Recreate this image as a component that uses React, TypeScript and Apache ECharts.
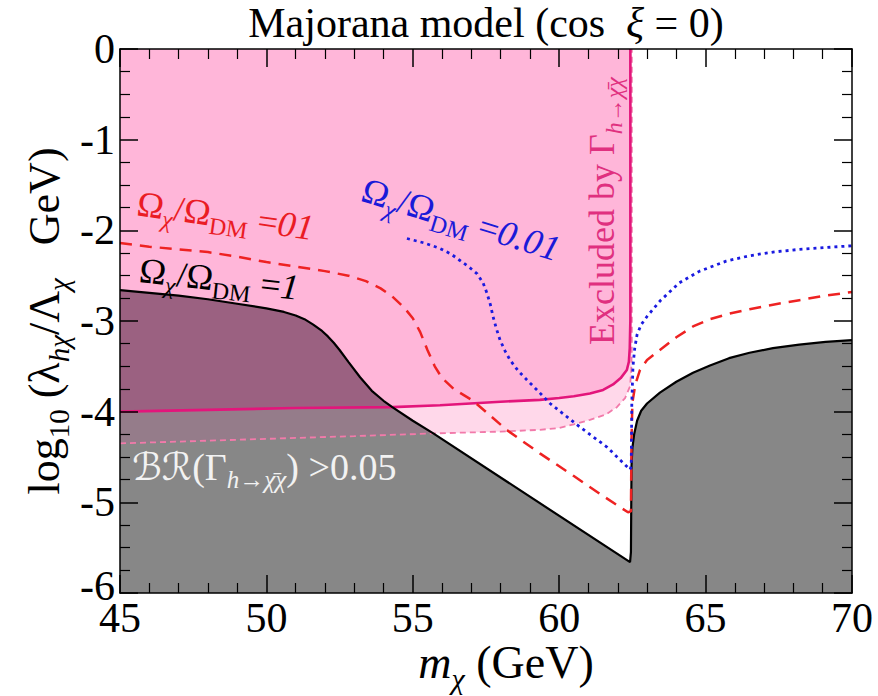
import React, { useEffect, useRef } from 'react';
import * as echarts from 'echarts';

// ---------- data ----------
const X_MIN = 45, X_MAX = 70, Y_MIN = -6, Y_MAX = 0;

// Omega/Omega_DM = 1 (solid black, boundary of grey region)
const blackX = [45, 46, 47, 48, 49, 50, 50.6, 51.0, 51.3, 51.6, 51.9, 52.1, 52.3, 52.5, 52.8, 53.2, 53.6, 54.0, 54.3, 55.0, 55.7, 62.42, 62.45, 62.47, 62.5, 62.56, 62.66, 62.8, 63.0, 63.44, 64.0, 64.57, 65.15, 65.8, 66.5, 67.3, 68.2, 69.1, 70];
const blackY = [-2.66, -2.69, -2.72, -2.76, -2.81, -2.86, -2.90, -2.94, -2.98, -3.04, -3.11, -3.17, -3.24, -3.32, -3.45, -3.62, -3.77, -3.88, -3.95, -4.10, -4.24, -5.66, -5.55, -4.6, -4.4, -4.25, -4.1, -3.99, -3.91, -3.79, -3.67, -3.57, -3.49, -3.41, -3.35, -3.30, -3.26, -3.23, -3.21];

// Omega/Omega_DM = 0.1 (red dashed)
const redX = [45, 46, 47, 48, 49, 50, 51, 52, 52.8, 53.4, 53.9, 54.3, 54.7, 55.0, 55.25, 55.5, 55.75, 56.0, 56.4, 57.06, 58.2, 59.34, 60.5, 61.5, 62.35, 62.45, 62.47, 62.5, 62.6, 62.76, 63.0, 63.44, 64.0, 64.57, 65.15, 65.8, 66.5, 67.3, 68.2, 69.1, 70];
const redY = [-2.14, -2.18, -2.21, -2.24, -2.29, -2.35, -2.40, -2.45, -2.50, -2.56, -2.64, -2.73, -2.85, -2.97, -3.12, -3.32, -3.50, -3.63, -3.75, -3.88, -4.2, -4.46, -4.71, -4.93, -5.11, -5.1, -4.3, -3.9, -3.7, -3.54, -3.43, -3.32, -3.18, -3.06, -2.98, -2.92, -2.87, -2.82, -2.77, -2.72, -2.68];

// Omega/Omega_DM = 0.01 (blue dotted)
const blueX = [54.8, 55.4, 55.93, 56.3, 56.6, 56.9, 57.2, 57.4, 57.53, 57.65, 57.74, 57.85, 57.98, 58.15, 58.32, 58.6, 58.9, 59.3, 59.69, 60.2, 60.71, 61.63, 62.42, 62.46, 62.48, 62.52, 62.58, 62.66, 62.8, 63.0, 63.44, 64.1, 64.8, 65.7, 66.5, 67.3, 68.2, 69.1, 70];
const blueY = [-2.09, -2.14, -2.2, -2.26, -2.33, -2.40, -2.48, -2.58, -2.69, -2.82, -2.95, -3.08, -3.21, -3.33, -3.43, -3.55, -3.65, -3.78, -3.91, -4.04, -4.17, -4.39, -4.64, -4.6, -3.9, -3.5, -3.3, -3.15, -3.04, -2.95, -2.78, -2.58, -2.45, -2.34, -2.28, -2.24, -2.21, -2.19, -2.17];

// Excluded by Gamma(h -> chi chi) (solid magenta)
const gammaX = [45, 48, 51, 54.3, 55.93, 58, 59.34, 60, 60.5, 61.05, 61.5, 61.84, 62.1, 62.31, 62.38, 62.41, 62.43, 62.43];
const gammaY = [-4.0, -3.98, -3.96, -3.95, -3.93, -3.89, -3.87, -3.85, -3.83, -3.80, -3.76, -3.70, -3.63, -3.54, -3.45, -3.3, -3.0, 0];

// BR(h -> chi chi) > 0.05 (dashed pink)
const brX = [45, 47, 50, 53, 55.7, 58, 59.34, 60, 60.5, 61.05, 61.6, 61.97, 62.25, 62.42, 62.46, 62.48, 62.48];
const brY = [-4.35, -4.33, -4.30, -4.27, -4.24, -4.22, -4.2, -4.18, -4.14, -4.09, -4.03, -3.95, -3.85, -3.72, -3.55, -3.3, 0];

// ---------- styles ----------
const FONT = '"Liberation Serif", "Times New Roman", "DejaVu Serif", serif';
const C_PINK = '#ffb6d9';
const C_BAND = '#ffd8ea';
const C_GREY = '#878787';
const C_MAUVE = '#9b6181';
const C_GREYBAND = '#957c8a';

type Curve = { x: number[]; y: number[] };
const pairs = (xs: number[], ys: number[]) => xs.map((x, i) => [x, ys[i]]);

function evalCurve(c: Curve, x: number) {
  for (let i = 0; i < c.x.length - 1; i++) {
    if (x >= c.x[i] && x <= c.x[i + 1] && c.x[i + 1] > c.x[i]) {
      const t = (x - c.x[i]) / (c.x[i + 1] - c.x[i]);
      return c.y[i] + t * (c.y[i + 1] - c.y[i]);
    }
  }
  return c.y[c.y.length - 1];
}

// polygon of the region lower < y < min(uppers), for x in [x0, x1]
function regionBetween(lower: Curve, uppers: Curve[], x0: number, x1: number) {
  const curves = [lower, ...uppers];
  let xs: number[] = [x0, x1];
  curves.forEach((c) => c.x.forEach((x) => { if (x > x0 && x < x1) xs.push(x); }));
  xs = Array.from(new Set(xs)).sort((a, b) => a - b);
  const extra: number[] = [];
  for (let k = 0; k < xs.length - 1; k++) {
    const a = xs[k], b = xs[k + 1];
    for (let i = 0; i < curves.length; i++) {
      for (let j = i + 1; j < curves.length; j++) {
        const da = evalCurve(curves[i], a) - evalCurve(curves[j], a);
        const db = evalCurve(curves[i], b) - evalCurve(curves[j], b);
        if (da * db < 0) extra.push(a + ((b - a) * da) / (da - db));
      }
    }
  }
  xs = xs.concat(extra).sort((a, b) => a - b);
  const up = (x: number) => Math.min(...uppers.map((c) => evalCurve(c, x)));
  const lo = (x: number) => evalCurve(lower, x);
  const keep = xs.filter((x) => up(x) - lo(x) > -1e-9);
  return [...keep.map((x) => [x, up(x)]), ...keep.slice().reverse().map((x) => [x, lo(x)])];
}

function rich(size: number, color: string) {
  const sub = Math.round(size * 0.66);
  const pad = Math.round(size * 0.17);
  const base = { fontFamily: FONT, fill: color, verticalAlign: 'bottom' };
  return {
    n: { ...base, fontSize: size, padding: [0, 0, pad, 0] },
    i: { ...base, fontSize: size, fontStyle: 'italic', padding: [0, 0, pad, 0] },
    s: { ...base, fontSize: sub },
    si: { ...base, fontSize: sub, fontStyle: 'italic' },
    cal: { ...base, fontSize: size, fontFamily: '"DejaVu Serif", "DejaVu Sans", serif', fontStyle: 'italic', padding: [0, 0, pad, 0] },
  };
}

function textEl(x: number, y: number, text: string, color: string, size: number, rotation = 0, align = 'left', vAlign = 'bottom') {
  return {
    type: 'text',
    x,
    y,
    rotation,
    z: 100,
    silent: true,
    style: { text, rich: rich(size, color), align, verticalAlign: vAlign, fill: color, fontSize: size, fontFamily: FONT },
  };
}

export default function App() {
  const ref = useRef<HTMLDivElement>(null);
  useEffect(() => {
    if (!ref.current) return;
    const chart = echarts.init(ref.current, undefined, { renderer: 'svg' });

    const black: Curve = { x: blackX, y: blackY };
    const gamma: Curve = { x: gammaX, y: gammaY };
    const br: Curve = { x: brX, y: brY };

    const pinkPoly = [...pairs(gammaX, gammaY), [X_MIN, Y_MAX]];
    const bandPoly = [...pairs(brX, brY), [X_MIN, Y_MAX]];
    const greyPoly = [...pairs(blackX, blackY), [X_MAX, Y_MIN], [X_MIN, Y_MIN]];
    const mauvePoly = regionBetween(gamma, [black], X_MIN, 60);
    const greyBandPoly = regionBetween(br, [gamma, black], X_MIN, 60);

    const fill = (poly: number[][], color: string, z: number) => ({
      type: 'custom',
      coordinateSystem: 'cartesian2d',
      data: [[50, -3]],
      clip: true,
      silent: true,
      z,
      renderItem: (_p: any, api: any) => ({
        type: 'polygon',
        shape: { points: poly.map((pt) => api.coord(pt)) },
        style: { fill: color, stroke: 'none' },
      }),
    });

    const line = (xs: number[], ys: number[], color: string, width: number, type: any, z: number) => ({
      type: 'line',
      data: pairs(xs, ys),
      symbol: 'none',
      showSymbol: false,
      clip: true,
      silent: true,
      z,
      lineStyle: { color, width, type },
    });

    const axisCommon = {
      type: 'value',
      z: 50,
      axisLine: { show: true, onZero: false, lineStyle: { color: '#000', width: 1.5 } },
      axisTick: { show: true, inside: true, length: 18, lineStyle: { color: '#000', width: 1.5 } },
      minorTick: { show: true, length: 10, lineStyle: { color: '#000', width: 1.2 } },
      splitLine: { show: false },
      minorSplitLine: { show: false },
    };

    chart.setOption({
      animation: false,
      backgroundColor: '#ffffff',
      grid: { left: 120, right: 26, top: 49, bottom: 103, containLabel: false },
      xAxis: [
        {
          ...axisCommon, position: 'bottom', min: X_MIN, max: X_MAX, interval: 5,
          minorTick: { ...axisCommon.minorTick, splitNumber: 5 },
          axisLabel: { show: true, margin: 4, color: '#000', fontSize: 42, fontFamily: FONT },
        },
        {
          ...axisCommon, position: 'top', min: X_MIN, max: X_MAX, interval: 5,
          minorTick: { ...axisCommon.minorTick, splitNumber: 5 },
          axisLabel: { show: false },
        },
      ],
      yAxis: [
        {
          ...axisCommon, position: 'left', min: Y_MIN, max: Y_MAX, interval: 1,
          minorTick: { ...axisCommon.minorTick, splitNumber: 4 },
          axisLabel: {
            show: true, margin: 5, color: '#000', fontSize: 42, fontFamily: FONT,
            formatter: (v: number) => (v === Y_MIN ? '{lo|' + String(v) + '}' : String(v)),
            rich: { lo: { fontSize: 42, fontFamily: FONT, color: '#000', padding: [0, 0, 14, 0] } },
          },
        },
        {
          ...axisCommon, position: 'right', min: Y_MIN, max: Y_MAX, interval: 1,
          minorTick: { ...axisCommon.minorTick, splitNumber: 4 },
          axisLabel: { show: false },
        },
      ],
      series: [
        fill(bandPoly, C_BAND, 1),
        fill(pinkPoly, C_PINK, 2),
        fill(greyPoly, C_GREY, 3),
        fill(mauvePoly, C_MAUVE, 4),
        fill(greyBandPoly, C_GREYBAND, 4),
        line(brX, brY, '#f27aaa', 1.8, [6, 4], 10),
        line(gammaX, gammaY, '#e3157b', 2.6, 'solid', 11),
        line(blackX, blackY, '#000000', 2.2, 'solid', 12),
        line(redX, redY, '#ee2222', 2.5, [12, 8], 13),
        line(blueX, blueY, '#1a1ae0', 2.8, [3, 4], 14),
      ],
      graphic: [
        textEl(486, 26, '{n|Majorana model (cos  }{i|ξ}{n| = 0)}', '#000', 42, 0, 'center', 'middle'),
        textEl(506, 666, '{i|m}{si|χ}{n| (GeV)}', '#000', 46, 0, 'center', 'middle'),
        textEl(48, 321, '{n|log}{s|10}{n| (λ}{si|hχ}{n|/Λ}{si|χ}{n|   GeV)}', '#000', 44, Math.PI / 2, 'center', 'middle'),
        textEl(134, 227, '{n|Ω}{si|χ}{n|/Ω}{s|DM}{n| =}{i|01}', '#ea1c24', 36, -0.14),
        textEl(137, 294, '{n|Ω}{si|χ}{n|/Ω}{s|DM}{n| =}{i|1}', '#000', 36, -0.11),
        textEl(356, 212, '{n|Ω}{si|χ}{n|/Ω}{s|DM}{n| =}{i|0.01}', '#1a1ad8', 36, -0.3),
        textEl(626, 345, '{n|Excluded by Γ}{si|h→χ̄χ}', '#e0307f', 36, Math.PI / 2, 'left', 'bottom'),
        textEl(132, 492, '{cal|ℬℛ}{n|(Γ}{si|h→χ̄χ}{n|) >0.05}', '#f2f2f2', 38, 0),
      ],
    });
    return () => chart.dispose();
  }, []);
  return <div ref={ref} style={{ position: 'fixed', left: 0, top: 0, width: 878, height: 696 }} />;
}
